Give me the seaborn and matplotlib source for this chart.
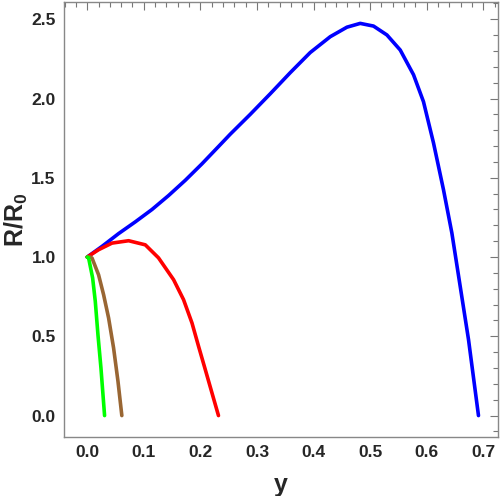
import numpy as np
import pandas as pd
import matplotlib
matplotlib.use('Agg')
import matplotlib.pyplot as plt
import seaborn as sns
from matplotlib.ticker import MultipleLocator, FormatStrFormatter

# curves (x = y-axis variable, r = R/R0)
blue_x = [0.0, 0.0261, 0.0555, 0.085, 0.1145, 0.1438, 0.1733, 0.2028, 0.232, 0.2528, 0.2881,
          0.3235, 0.3588, 0.3941, 0.4295, 0.459, 0.4825, 0.506, 0.5297, 0.5532, 0.5767, 0.5943,
          0.612, 0.6297, 0.6445, 0.6592, 0.6739, 0.6915]
blue_r = [1.0, 1.067, 1.148, 1.222, 1.300, 1.388, 1.484, 1.588, 1.697, 1.775, 1.900,
          2.030, 2.163, 2.290, 2.390, 2.450, 2.474, 2.457, 2.401, 2.306, 2.15, 1.98,
          1.72, 1.424, 1.151, 0.815, 0.479, 0.0]

red_x = [0.0, 0.020, 0.0438, 0.0732, 0.1027, 0.126, 0.1527, 0.1703, 0.1852, 0.1968, 0.2087,
         0.2205, 0.232]
red_r = [1.0, 1.046, 1.088, 1.103, 1.077, 0.995, 0.857, 0.731, 0.584, 0.437, 0.29, 0.143, 0.0]

brown_x = [0.0, 0.0055, 0.0085, 0.0201, 0.029, 0.0378, 0.0466, 0.0544, 0.0612]
brown_r = [1.0, 1.0, 0.994, 0.888, 0.762, 0.616, 0.427, 0.216, 0.0]

green_x = [0.0, 0.0025, 0.0096, 0.0143, 0.019, 0.0243, 0.0307]
green_r = [1.0, 0.994, 0.868, 0.72, 0.51, 0.30, 0.0]

curves = {'blue': (blue_x, blue_r), 'red': (red_x, red_r),
          '#996633': (brown_x, brown_r), '#00ff00': (green_x, green_r)}

sns.set_style('white')
plt.rcParams['font.family'] = ['Liberation Sans', 'DejaVu Sans']
plt.rcParams['mathtext.fontset'] = 'custom'
plt.rcParams['mathtext.bf'] = 'Liberation Sans:bold'
plt.rcParams['mathtext.rm'] = 'Liberation Sans:bold'

fig = plt.figure(figsize=(5, 4.96), dpi=100)
ax = fig.add_axes([0.128, 0.119, 0.868, 0.877])

for col, (xs, rs) in curves.items():
    d = pd.DataFrame({'x': xs, 'r': rs})
    sns.lineplot(data=d, x='x', y='r', sort=False, color=col, lw=2.6, ax=ax)

ax.set_xlim(-0.041, 0.726)
ax.set_ylim(-0.135, 2.609)
ax.xaxis.set_major_locator(MultipleLocator(0.1))
ax.xaxis.set_minor_locator(MultipleLocator(0.02))
ax.yaxis.set_major_locator(MultipleLocator(0.5))
ax.yaxis.set_minor_locator(MultipleLocator(0.1))
ax.xaxis.set_major_formatter(FormatStrFormatter('%.1f'))
ax.yaxis.set_major_formatter(FormatStrFormatter('%.1f'))

for s in ax.spines.values():
    s.set_color('#888888')
    s.set_linewidth(1)
ax.tick_params(which='both', direction='in', top=True, right=True, color='#777777',
               labelsize=12.5, width=0.8)
ax.tick_params(which='major', length=6, pad=6)
ax.tick_params(which='minor', length=3.5)
for lab in ax.get_xticklabels() + ax.get_yticklabels():
    lab.set_fontweight('bold')

ax.set_xlabel('y', fontsize=18, fontweight='bold', labelpad=9)
ax.set_ylabel(r'$\mathbf{R/R_0}$', fontsize=18, labelpad=1)

fig.savefig('out.png', dpi=100)
